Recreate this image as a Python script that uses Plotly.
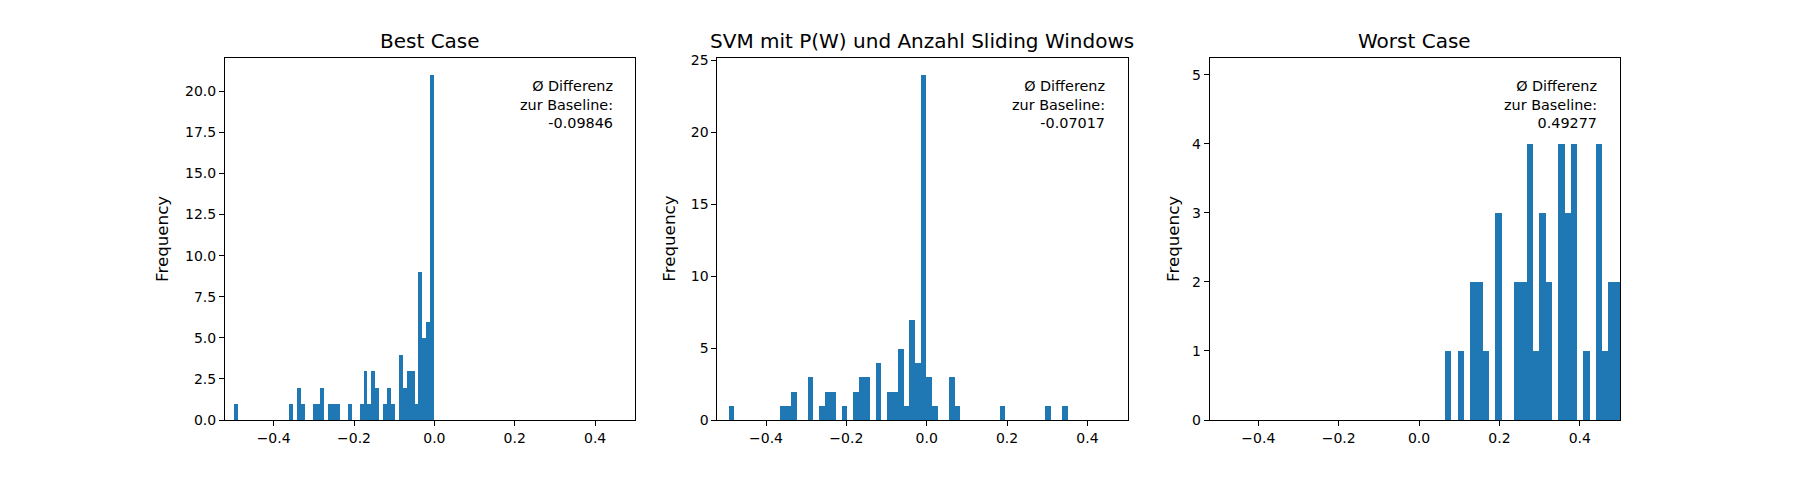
import numpy as np
import plotly.graph_objects as go

# ---------------- data ----------------
titles = ["Best Case", "SVM mit P(W) und Anzahl Sliding Windows", "Worst Case"]
mean_diff = ["-0.09846", "-0.07017", "0.49277"]

# histogram bins (lower edge of first bin, upper edge of last bin)
best_lo, best_hi = -0.4985, -0.0005
best_counts = [1, 0, 0, 0, 0, 0, 0, 0, 0, 0, 0, 0, 0, 0, 1, 0, 2, 1, 0, 0,
               1, 1, 2, 0, 1, 1, 1, 0, 0, 1, 0, 0, 1, 3, 1, 3, 2, 0, 1, 2,
               1, 0, 4, 2, 3, 3, 1, 9, 5, 6, 21]

svm_lo, svm_hi = -0.4918, 0.3516
svm_counts = [1, 0, 0, 0, 0, 0, 0, 0, 0, 1, 1, 2, 0, 0, 3, 0, 1, 2, 2, 0,
              1, 0, 2, 3, 3, 0, 4, 0, 2, 2, 5, 1, 7, 4, 24, 3, 1, 0, 0, 3,
              1, 0, 0, 0, 0, 0, 0, 0, 1, 0, 0, 0, 0, 0, 0, 0, 1, 0, 0, 1]

worst_lo, worst_hi = 0.0640, 0.5019   # visible part of the histogram
worst_counts = [1, 0, 1, 0, 2, 2, 1, 0, 3, 0, 0, 2, 2, 4, 1, 3, 2, 0, 4, 3,
                4, 0, 1, 0, 4, 1, 2, 2]

y_max = [22.05, 25.2, 5.25]
y_dtick = [2.5, 5, 1]
y_fmt = [".1f", "d", "d"]
x_ticks = [-0.4, -0.2, 0.0, 0.2, 0.4]
x_range = [-0.521, 0.5]

panels = [(best_lo, best_hi, best_counts),
          (svm_lo, svm_hi, svm_counts),
          (worst_lo, worst_hi, worst_counts)]

# ---------------- figure ----------------
W, H = 1800, 480
FONT = "DejaVu Sans"
BLUE = "#1f77b4"

x_domains = [(225, 635.3), (717.4, 1127.6), (1209.7, 1620)]
y_dom = [1 - 420 / H, 1 - 57.6 / H]
ylabel_shift = [-62.8, -48.5, -36.5]

fig = go.Figure()
annotations = []
for i, (lo, hi, counts) in enumerate(panels):
    edges = np.linspace(lo, hi, len(counts) + 1)
    centers = (edges[:-1] + edges[1:]) / 2
    widths = np.diff(edges)
    sfx = "" if i == 0 else str(i + 1)
    fig.add_trace(go.Bar(
        x=centers, y=counts, width=widths,
        marker=dict(color=BLUE, line=dict(width=0)),
        xaxis="x" + sfx, yaxis="y" + sfx, showlegend=False,
        hoverinfo="x+y",
    ))
    axis_common = dict(
        showline=True, linecolor="black", linewidth=1, mirror=True,
        ticks="outside", ticklen=5, tickwidth=1, tickcolor="black",
        showgrid=False, zeroline=False, automargin=False,
        tickfont=dict(family=FONT, size=14, color="black"),
    )
    fig.layout["xaxis" + sfx] = dict(
        domain=[x_domains[i][0] / W, x_domains[i][1] / W],
        range=x_range, tickmode="array", tickvals=x_ticks,
        ticktext=[("\u2212" if v < 0 else "") + f"{abs(v):.1f}" for v in x_ticks],
        anchor="y" + sfx, **axis_common)
    fig.layout["yaxis" + sfx] = dict(
        domain=y_dom, range=[0, y_max[i]], dtick=y_dtick[i], tick0=0,
        tickformat=y_fmt[i], anchor="x" + sfx, **axis_common)

    xd = "x" + sfx + " domain"
    yd = "y" + sfx + " domain"
    annotations.append(dict(
        text=titles[i], xref=xd, yref=yd, x=0.5, y=1, xanchor="center",
        yanchor="bottom", yshift=3, showarrow=False,
        font=dict(family=FONT, size=20, color="black")))
    annotations.append(dict(
        text="Ø Differenz<br>zur Baseline:<br>" + mean_diff[i],
        xref=xd, yref=yd, x=0.95, y=0.95, xanchor="right", yanchor="top",
        align="right", showarrow=False,
        font=dict(family=FONT, size=14.4, color="black")))
    annotations.append(dict(
        text="Frequency", xref=xd, yref=yd, x=0, y=0.5, xshift=ylabel_shift[i],
        xanchor="center", yanchor="middle", textangle=-90, showarrow=False,
        font=dict(family=FONT, size=16.7, color="black")))

fig.update_layout(
    width=W, height=H, margin=dict(l=0, r=0, t=0, b=0, autoexpand=False),
    paper_bgcolor="white", plot_bgcolor="white",
    bargap=0, barmode="overlay",
    annotations=annotations,
    font=dict(family=FONT, color="black"),
)

fig.write_html("out.html")
